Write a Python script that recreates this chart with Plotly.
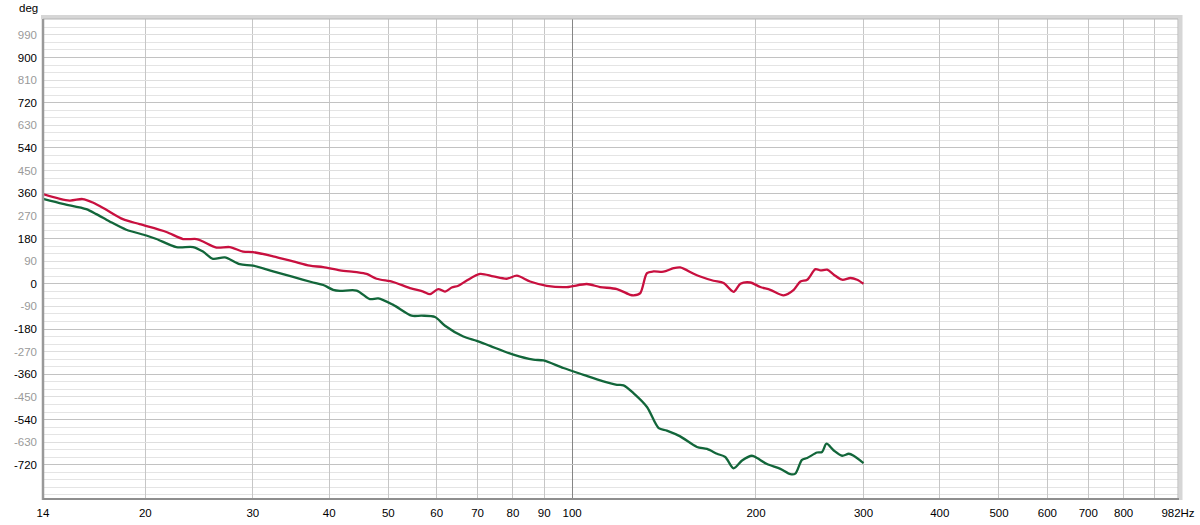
import math
import plotly.graph_objects as go

# ---------------- data ----------------
red_freq = [13.6, 15.03, 15.79, 16.41, 17.27, 18.38, 19.58, 21.66, 23.06, 24.26,
            24.86, 26.16, 27.50, 28.92, 30.03, 32.38, 34.92, 37.20, 39.12, 41.67,
            44.37, 46.07, 47.84, 50.93, 54.25, 57.04, 58.51, 60.37, 61.92, 63.51,
            65.11, 67.21, 70.67, 74.30, 78.16, 81.19, 85.34, 90.88, 98.02, 105.7,
            111.1, 118.4, 124.5, 126.0, 129.3, 132.6, 135.9, 141.1, 146.6, 150.3,
            158.1, 162.1, 170.4, 177.0, 183.8, 188.6, 195.8, 203.3, 211.1, 222.0,
            230.6, 236.5, 242.6, 250.3, 255.1, 261.6, 268.2, 276.8, 285.6, 292.9,
            300.0]
red_deg = [357, 331, 337, 323, 294, 257, 237, 206, 178, 178,
           168, 144, 146, 128, 126, 109, 89, 72, 66, 53,
           46, 39, 20, 7, -17, -31, -41, -21, -31, -15,
           -8, 13, 39, 29, 20, 32, 9, -8, -13, -1,
           -13, -21, -44, -46, -37, 42, 49, 48, 62, 65,
           40, 29, 12, 3, -32, 0, 5, -13, -24, -46,
           -24, 9, 16, 58, 53, 56, 36, 16, 23, 16,
           0]

green_freq = [13.6, 14.66, 16.01, 16.63, 17.48, 18.62, 20.08, 20.86, 22.49, 23.95,
              24.86, 25.82, 26.99, 28.56, 30.03, 32.38, 34.92, 37.66, 39.12, 40.61,
              41.67, 44.37, 46.66, 48.15, 50.93, 54.60, 56.70, 59.63, 61.92, 66.35,
              69.79, 73.38, 80.14, 86.40, 89.74, 96.76, 104.4, 112.5, 118.4, 121.4,
              126.0, 132.6, 138.6, 142.9, 150.3, 160.1, 166.3, 172.7, 178.1, 183.8,
              189.8, 197.0, 200.8, 208.5, 219.3, 227.7, 232.0, 237.9, 242.6, 251.8,
              256.6, 260.9, 268.2, 276.8, 283.8, 289.1, 300.0]
green_deg = [338, 318, 297, 277, 248, 215, 192, 178, 146, 146,
             128, 99, 105, 78, 72, 49, 27, 5, -5, -24,
             -28, -27, -61, -58, -84, -127, -127, -132, -167, -210,
             -227, -247, -282, -302, -305, -335, -362, -388, -402, -404,
             -435, -490, -574, -584, -607, -649, -657, -676, -689, -734,
             -703, -684, -693, -717, -736, -757, -755, -700, -693, -671,
             -669, -636, -663, -684, -676, -684, -713]

# axis extent (the reference labels the start of the axis "14")
x_range = [13.6, 982]
y_range = [-856, 1053]

x_tick_vals = [13.6, 20, 30, 40, 50, 60, 70, 80, 90, 100, 200, 300, 400, 500, 600, 700, 800, 900, 982]
x_tick_text = ["14", "20", "30", "40", "50", "60", "70", "80", "90", "100",
               "200", "300", "400", "500", "600", "700", "800", "", "982Hz"]
y_label_vals = [990, 900, 810, 720, 630, 540, 450, 360, 270, 180, 90, 0,
                -90, -180, -270, -360, -450, -540, -630, -720]
y_major_vals = [900, 720, 540, 360, 180, 0, -180, -360, -540, -720]

RED = "#c8103f"
GREEN = "#12663a"
FONT = "Liberation Sans"
FS = 11.5

y_label_text = []
for v in y_label_vals:
    if v in y_major_vals:
        y_label_text.append(str(v))
    else:
        y_label_text.append('<span style="color:#9a9a9a">%d</span>' % v)

fig = go.Figure()
fig.add_trace(go.Scatter(x=red_freq, y=red_deg, mode="lines",
                         line=dict(color=RED, width=2.3, shape="spline", smoothing=0.8),
                         showlegend=False, hoverinfo="skip"))
fig.add_trace(go.Scatter(x=green_freq, y=green_deg, mode="lines",
                         line=dict(color=GREEN, width=2.3, shape="spline", smoothing=0.8),
                         showlegend=False, hoverinfo="skip"))
# empty trace to activate overlay axes (used for darker grid lines)
fig.add_trace(go.Scatter(x=[], y=[], xaxis="x2", yaxis="y2", showlegend=False))

lx = [math.log10(x_range[0]), math.log10(x_range[1])]

fig.update_layout(
    width=1200, height=525,
    margin=dict(l=43, r=22, t=19, b=26, autoexpand=False),
    paper_bgcolor="white", plot_bgcolor="white",
    font=dict(family=FONT, size=FS, color="#000000"),
    xaxis=dict(type="log", range=lx, tickmode="array", tickvals=x_tick_vals,
               ticktext=x_tick_text, showgrid=True, gridcolor="#c6c6c6", gridwidth=1,
               zeroline=False, showline=False, ticks="", ticklabelstandoff=5,
               automargin=False,
               tickfont=dict(family=FONT, size=FS, color="#000000")),
    yaxis=dict(range=y_range, tickmode="array", tickvals=y_label_vals,
               ticktext=y_label_text, showgrid=True, gridcolor="#dedede", gridwidth=1,
               zeroline=False, showline=False, ticks="", ticklabelstandoff=5,
               automargin=False,
               tickfont=dict(family=FONT, size=FS, color="#000000"),
               minor=dict(dtick=30, showgrid=True, gridcolor="#e4e4e4", gridwidth=1)),
    xaxis2=dict(type="log", range=lx, overlaying="x", tickmode="array", tickvals=[100],
                showticklabels=False, showgrid=True, gridcolor="#858585", gridwidth=1,
                zeroline=False, showline=False, ticks="", automargin=False),
    yaxis2=dict(range=y_range, overlaying="y", tickmode="array", tickvals=y_major_vals,
                showticklabels=False, showgrid=True, gridcolor="#c2c2c2", gridwidth=1,
                zeroline=False, showline=False, ticks="", automargin=False),
)

px_x = 1.0 / 1135
px_y = 1.0 / 480
shapes = [
    # soft shadow on top and right
    dict(type="line", xref="paper", yref="paper", x0=-2 * px_x, x1=1 + 4 * px_x,
         y0=1 + 2 * px_y, y1=1 + 2 * px_y, line=dict(color="#d6d6d6", width=4)),
    dict(type="line", xref="paper", yref="paper", x0=1 + 2.5 * px_x, x1=1 + 2.5 * px_x,
         y0=-1 * px_y, y1=1 + 4 * px_y, line=dict(color="#d6d6d6", width=4)),
    dict(type="line", xref="paper", yref="paper", x0=0, x1=1, y0=1, y1=1,
         line=dict(color="#b4b4b4", width=1)),
    dict(type="line", xref="paper", yref="paper", x0=1, x1=1, y0=0, y1=1,
         line=dict(color="#b4b4b4", width=1)),
    # darker left and bottom edges
    dict(type="line", xref="paper", yref="paper", x0=0, x1=0, y0=-1 * px_y, y1=1,
         line=dict(color="#999999", width=2.5)),
    dict(type="line", xref="paper", yref="paper", x0=0, x1=1 + 1 * px_x, y0=0, y1=0,
         line=dict(color="#8e8e8e", width=2)),
]
fig.update_layout(shapes=shapes)

fig.add_annotation(text="deg", xref="paper", yref="paper",
                   x=-15 * px_x, y=1 + 11 * px_y, xanchor="center", yanchor="middle",
                   showarrow=False, font=dict(family=FONT, size=FS, color="#000000"))

fig.write_html("out.html",
               config={"displayModeBar": False},
               post_script="document.body.style.margin='0';document.body.style.overflow='hidden';")
